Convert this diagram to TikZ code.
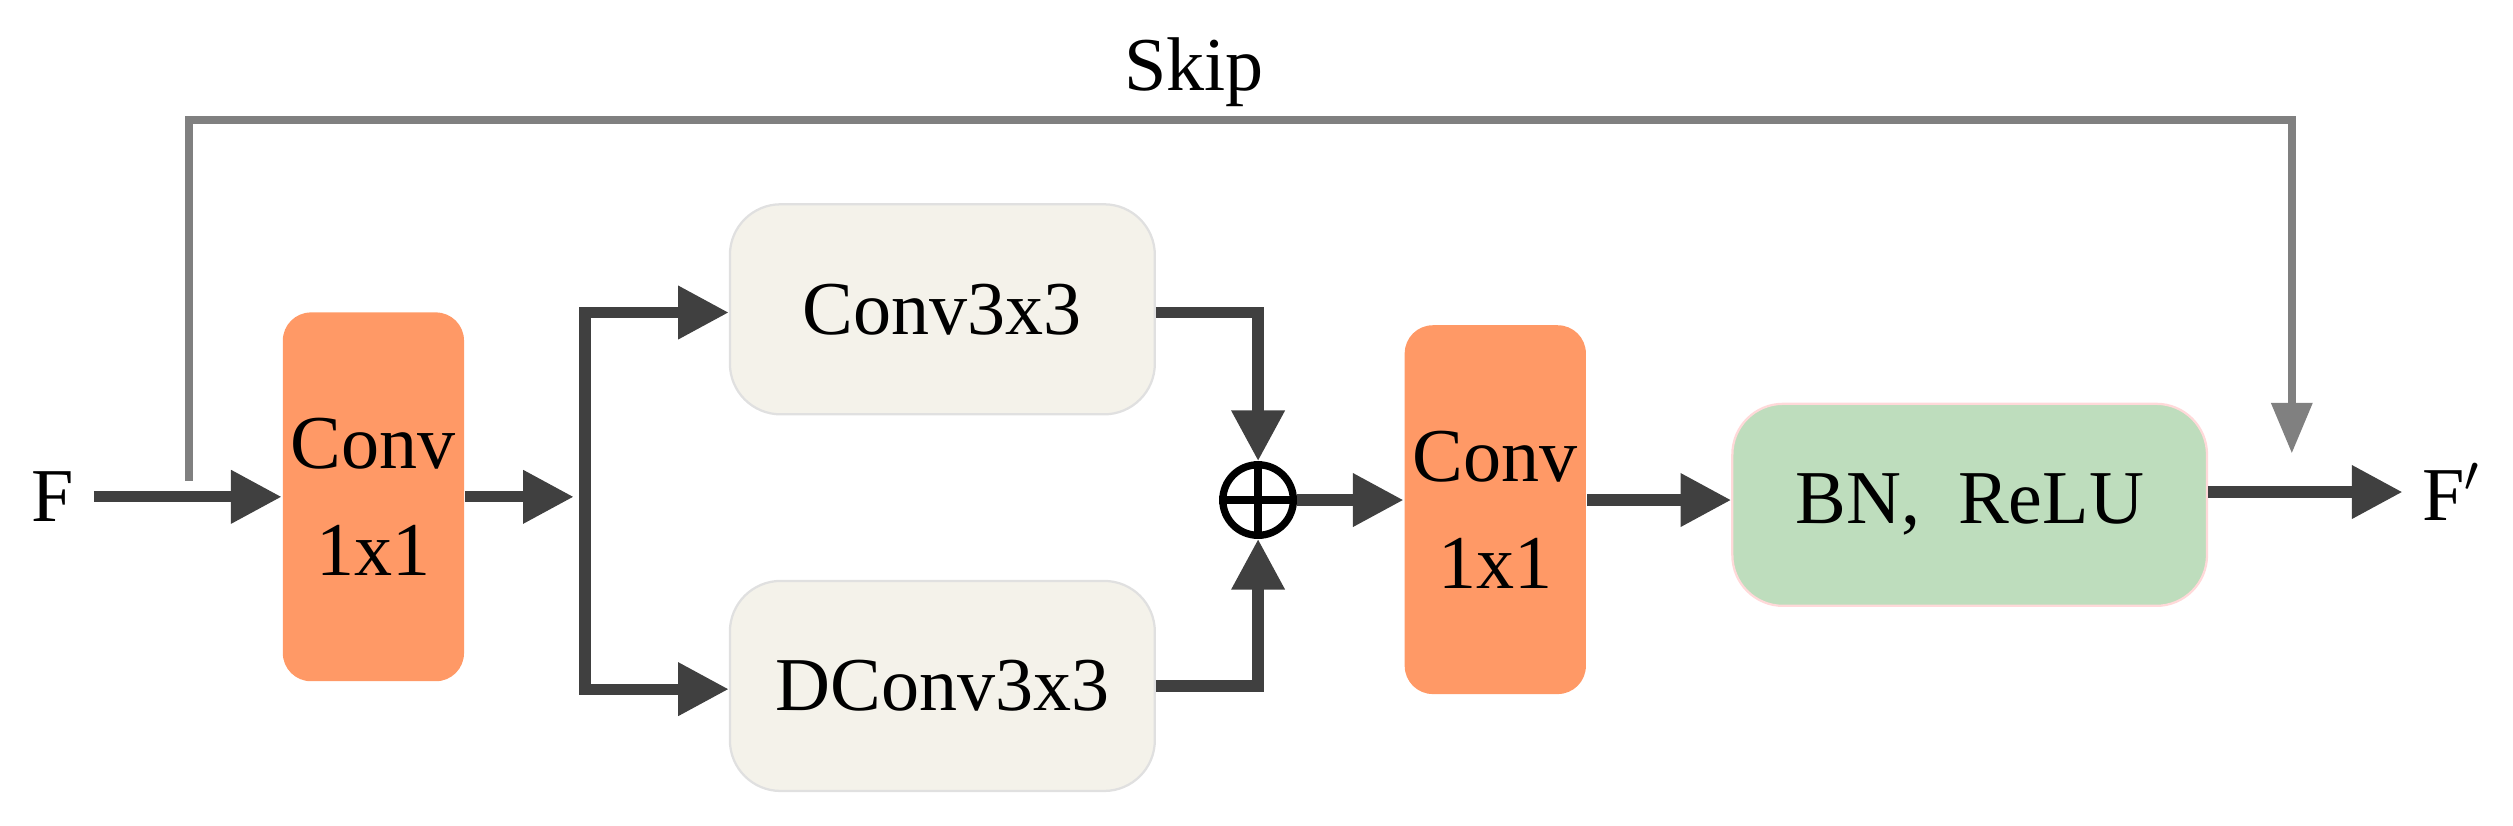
\documentclass[tikz,border=0pt]{standalone}
\usepackage{fontspec}
\setmainfont{Liberation Serif}
\usepackage{tikz}
\usetikzlibrary{positioning,arrows.meta}

\definecolor{convorange}{HTML}{FF9966}
\definecolor{branchbg}{HTML}{F4F2EA}
\definecolor{bngreen}{HTML}{BEDDBD}
\definecolor{flowdark}{HTML}{404040}
\definecolor{skipgray}{HTML}{808080}

\begin{document}
\begin{tikzpicture}[
  x=0.01cm, y=-0.01cm,
  font=\fontsize{13.5}{19}\selectfont,
  conv/.style={rectangle, rounded corners=5pt, fill=convorange, minimum width=1.13cm, minimum height=2.3cm, align=center, inner sep=0pt},
  branch/.style={rectangle, rounded corners=9pt, fill=branchbg, draw=black!12, minimum width=2.65cm, minimum height=1.31cm},
  norm/.style={rectangle, rounded corners=9pt, fill=bngreen, draw=red!15, minimum width=2.96cm, minimum height=1.26cm},
  flow/.style={-{Triangle[length=9pt,width=9pt]}, line width=2pt, draw=flowdark},
  skip/.style={-{Triangle[length=9pt,width=7pt]}, line width=1.5pt, draw=skipgray}
]
\useasboundingbox (0,0) rectangle (1568,515);

% Inputs and blocks
\node (fin) at (33,310) {F};
\node[conv] (conva) at (233,310) {Conv\\1x1};
\node[branch] (conv3) at (588,193) {Conv3x3};
\node[branch] (dconv3) at (588,428) {DConv3x3};
\node[circle, draw, line width=1.3pt, minimum size=0.44cm, inner sep=0pt] (sum) at (785,312) {};
\draw[line width=1.3pt] (sum.north) -- (sum.south) (sum.west) -- (sum.east);
\node[conv] (convb) at (933,318) {Conv\\1x1};
\node[norm] (bn) at (1229,315) {BN,\ \ ReLU};
\node (fout) at (1530,307) {F$'$};
\node (skiplbl) at (745,45) {Skip};
\coordinate (skipin) at (118,300);
\coordinate (skipout) at (1430,283);

% Main path
\draw[flow] (fin.east |- 0,310) -- (conva.west |- 0,310);
\draw[flow] (conva.east |- 0,310) -- (358,310);
\draw[line width=2pt, draw=flowdark, line cap=rect] (365,195) -- (365,430);
\draw[flow] (365,195) -- (conv3.west |- 0,195);
\draw[flow] (365,430) -- (dconv3.west |- 0,430);
\draw[flow] (conv3.east |- 0,195) -| (sum.north);
\draw[flow] (dconv3.east |- 0,428) -| (sum.south);
\draw[flow] (sum.east) -- (convb.west |- sum.east);
\draw[flow] (convb.east |- 0,312) -- (bn.west |- 0,312);
\draw[flow] (bn.east |- 0,307) -- (fout.west |- 0,307);

% Skip connection
\draw[skip] (skipin) -- (118,75) -- (1430,75) -- (skipout);
\end{tikzpicture}
\end{document}
